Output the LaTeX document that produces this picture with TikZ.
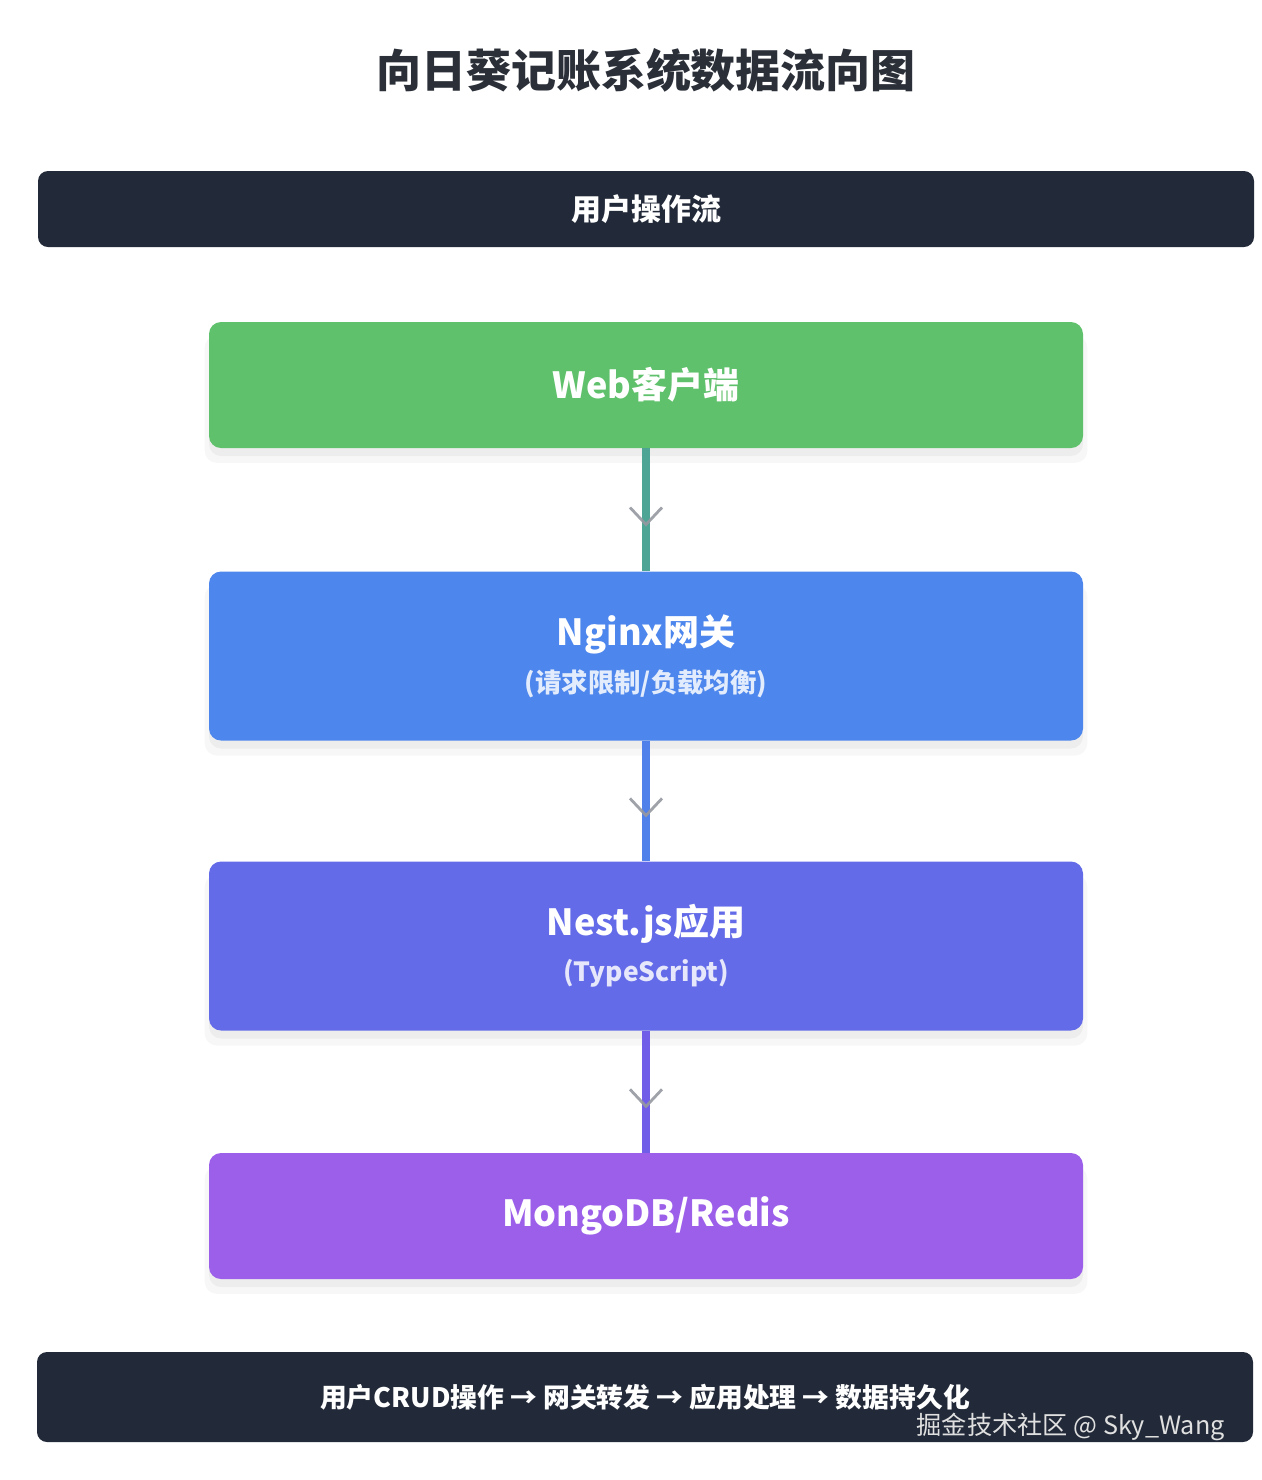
\documentclass[tikz,border=0pt]{standalone}
\usepackage{fontspec}
\setmainfont{Noto Sans CJK SC}
\usetikzlibrary{positioning,shadows,decorations.markings}

\definecolor{barDark}{RGB}{34,41,56}
\definecolor{titleInk}{RGB}{42,47,56}
\definecolor{webGreen}{RGB}{95,193,107}
\definecolor{gateBlue}{RGB}{77,134,236}
\definecolor{appIndigo}{RGB}{99,107,232}
\definecolor{dbPurple}{RGB}{155,95,234}
\definecolor{linkTeal}{RGB}{78,165,150}
\definecolor{linkBlue}{RGB}{80,128,234}
\definecolor{linkViolet}{RGB}{112,94,233}
\definecolor{chevGray}{RGB}{150,152,160}

% box heading and its grey-white second line
\newcommand{\tierhead}[1]{{\bfseries\fontsize{18}{22}\selectfont #1}}
\newcommand{\tiersub}[2]{{\bfseries\fontsize{13.2}{16}\selectfont\color{white!84!#1}#2}}

\begin{document}
\begin{tikzpicture}[
    x=0.5pt, y=-0.5pt,
    bar/.style={fill=barDark, rounded corners=5pt, minimum width=608pt, inner sep=0pt, text=white, align=center},
    tier/.style={rounded corners=6pt, minimum width=437pt, inner sep=0pt, text=white, align=center,
        drop shadow={shadow xshift=0pt, shadow yshift=-7pt, shadow scale=1.01, opacity=0.03, fill=black},
        drop shadow={shadow xshift=0pt, shadow yshift=-4pt, opacity=0.04, fill=black}},
    link/.style={line width=4pt, postaction={decorate}, decoration={markings,
        mark=at position 0.62 with {\draw[chevGray, line width=1.4pt, opacity=0.9] (-8.5pt,8pt) -- (0,0) -- (-8.5pt,-8pt);}}}
]
\useasboundingbox (0,0) rectangle (1262,1480);

\node[text=titleInk, font=\bfseries\fontsize{22.5}{26}\selectfont] (title) at (646,70) {向日葵记账系统数据流向图};

\node[bar, minimum height=38pt, font=\bfseries\fontsize{15}{18}\selectfont] (flow) at (646,209) {用户操作流};

\node[tier, fill=webGreen, minimum height=63pt] (web) at (646,385) {\tierhead{Web客户端}};
\node[tier, fill=gateBlue, minimum height=84.5pt] (nginx) at (646,656)
    {\tierhead{Nginx网关}\\[7pt]\tiersub{gateBlue}{(请求限制/负载均衡)}};
\node[tier, fill=appIndigo, minimum height=84.5pt] (nest) at (646,946)
    {\tierhead{Nest.js应用}\\[7pt]\tiersub{appIndigo}{(TypeScript)}};
\node[tier, fill=dbPurple, minimum height=63pt] (db) at (646,1216) {\tierhead{MongoDB/Redis}};

\draw[link, linkTeal] (web) -- (nginx);
\draw[link, linkBlue] (nginx) -- (nest);
\draw[link, linkViolet] (nest) -- (db);

\node[bar, minimum height=45pt, font=\bfseries\fontsize{13.4}{16}\selectfont] (summary) at (645,1397)
    {用户CRUD操作 → 网关转发 → 应用处理 → 数据持久化};
\node[text=white!88!black, font=\fontsize{12.6}{15}\selectfont, anchor=east, inner sep=0pt] (mark) at (1225,1427) {掘金技术社区 @ Sky\_Wang};
\end{tikzpicture}
\end{document}
